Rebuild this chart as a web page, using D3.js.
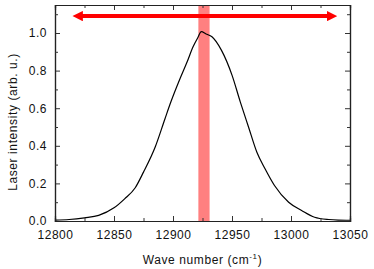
<!DOCTYPE html>
<html>
<head>
<meta charset="utf-8">
<script src="https://cdn.jsdelivr.net/npm/d3@7"></script>
<style>
  body { margin: 0; background: #fff; }
  text { font-family: "Liberation Sans", Arial, sans-serif; }
</style>
</head>
<body>
<script>
// data
var waveNumber = [12800, 12812, 12825, 12837, 12850, 12859, 12868, 12875, 12885, 12893, 12898, 12906, 12912, 12917, 12921, 12924, 12928, 12933, 12941, 12950, 12957, 12964, 12971, 12978, 12986, 12998, 13009, 13020, 13032, 13040, 13050]
var intensity  = [0.005, 0.008, 0.017, 0.030, 0.070, 0.118, 0.177, 0.26, 0.395, 0.54, 0.63, 0.758, 0.847, 0.927, 0.975, 1.007, 0.995, 0.98, 0.909, 0.776, 0.634, 0.5, 0.367, 0.278, 0.189, 0.10, 0.056, 0.02, 0.008, 0.005, 0.004]
var xTicks = [12800, 12850, 12900, 12950, 13000, 13050]
var yTicks = [0, 0.2, 0.4, 0.6, 0.8, 1.0]
var band = [12921.5, 12931]      // shaded line position
var arrowSpan = [12815, 13039]   // double arrow range
var arrowLevel = 1.09

var width = 374, height = 269
var margin = {left: 55, right: 24, top: 5, bottom: 48}

var x = d3.scaleLinear().domain([12800, 13050]).range([margin.left, width - margin.right])
var y = d3.scaleLinear().domain([0, 1.149]).range([height - margin.bottom, margin.top])

var svg = d3.select('body').append('svg').attr('width', width).attr('height', height)

var defs = svg.append('defs')
defs.append('marker').attr('id', 'head').attr('viewBox', '0 0 10 10')
    .attr('refX', 5).attr('refY', 5).attr('markerWidth', 2.6).attr('markerHeight', 2.6)
    .attr('orient', 'auto-start-reverse').attr('markerUnits', 'strokeWidth')
    .append('path').attr('d', 'M0,0 L10,5 L0,10 Z').attr('fill', '#ff0000')

// red band
svg.append('rect')
    .attr('x', x(band[0])).attr('width', x(band[1]) - x(band[0]))
    .attr('y', y.range()[1]).attr('height', y.range()[0] - y.range()[1])
    .attr('fill', '#ff8080')

// curve
var line = d3.line().x(function(d, i){ return x(waveNumber[i]) }).y(function(d){ return y(d) })
    .curve(d3.curveMonotoneX)
svg.append('path').datum(intensity).attr('d', line)
    .attr('fill', 'none').attr('stroke', '#000').attr('stroke-width', 1.2)

// arrow
svg.append('line')
    .attr('x1', x(arrowSpan[0]) + 5).attr('x2', x(arrowSpan[1]) - 5)
    .attr('y1', y(arrowLevel)).attr('y2', y(arrowLevel))
    .attr('stroke', '#ff0000').attr('stroke-width', 4)
    .attr('marker-start', 'url(#head)').attr('marker-end', 'url(#head)')

// axes
var x0 = x.range()[0], x1 = x.range()[1], y0 = y.range()[0], y1 = y.range()[1]
var xMinor = d3.range(12825, 13050, 50)
var yMinor = [0.1, 0.3, 0.5, 0.7, 0.9, 1.1]

svg.append('g').attr('transform', 'translate(0,' + y0 + ')')
    .call(d3.axisBottom(x).tickValues(xTicks).tickSize(-5).tickPadding(9).tickFormat(d3.format('d')))
svg.append('g').attr('transform', 'translate(0,' + y1 + ')')
    .call(d3.axisTop(x).tickValues(xTicks).tickSize(-5).tickFormat(''))
svg.append('g').attr('transform', 'translate(' + x0 + ',0)')
    .call(d3.axisLeft(y).tickValues(yTicks).tickSize(-5).tickPadding(8).tickFormat(d3.format('.1f')))
svg.append('g').attr('transform', 'translate(' + x1 + ',0)')
    .call(d3.axisRight(y).tickValues(yTicks).tickSize(-5).tickFormat(''))

svg.append('g').attr('transform', 'translate(0,' + y0 + ')')
    .call(d3.axisBottom(x).tickValues(xMinor).tickSize(-3).tickFormat(''))
svg.append('g').attr('transform', 'translate(0,' + y1 + ')')
    .call(d3.axisTop(x).tickValues(xMinor).tickSize(-3).tickFormat(''))
svg.append('g').attr('transform', 'translate(' + x0 + ',0)')
    .call(d3.axisLeft(y).tickValues(yMinor).tickSize(-3).tickFormat(''))
svg.append('g').attr('transform', 'translate(' + x1 + ',0)')
    .call(d3.axisRight(y).tickValues(yMinor).tickSize(-3).tickFormat(''))

svg.selectAll('.domain').attr('stroke', '#222').attr('stroke-width', 1.2)
svg.selectAll('.tick line').attr('stroke', '#333')
svg.selectAll('.tick text').attr('font-size', 12).attr('fill', '#111')
    .attr('letter-spacing', 0.5)
    .style('font-family', '"Liberation Sans", Arial, sans-serif')

// labels
var xl = svg.append('text').attr('x', (x0 + x1) / 2).attr('y', 264)
    .attr('text-anchor', 'middle').attr('font-size', 12).attr('fill', '#111')
    .attr('letter-spacing', 0.6)
xl.append('tspan').text('Wave number (cm')
xl.append('tspan').text('-1').attr('font-size', 8).attr('dy', -5)
xl.append('tspan').text(')').attr('dy', 5)

svg.append('text').attr('transform', 'translate(17,122) rotate(-90)')
    .attr('text-anchor', 'middle').attr('font-size', 12).attr('fill', '#111')
    .attr('letter-spacing', 0.6)
    .text('Laser intensity (arb. u.)')
</script>
</body>
</html>
